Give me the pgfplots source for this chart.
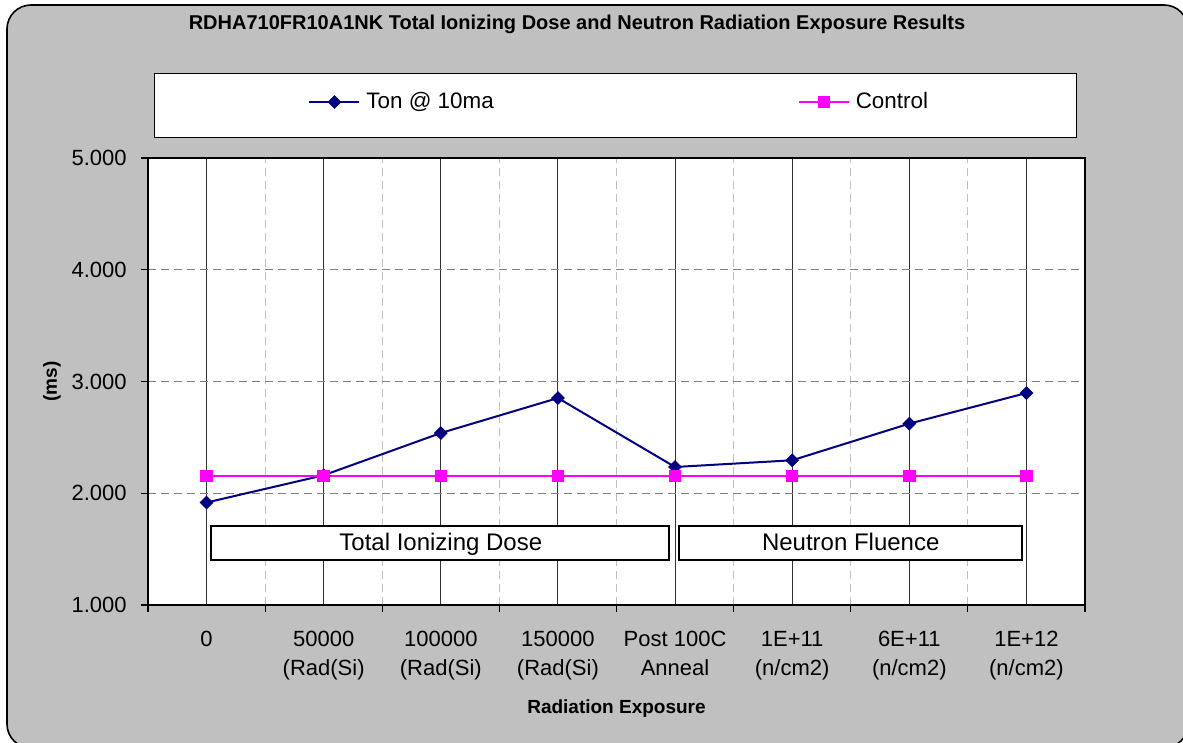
\documentclass[border=0pt]{standalone}
\usepackage{fontspec}
\setmainfont{Liberation Sans}
\usepackage{pgfplots}
\pgfplotsset{compat=1.18}
\definecolor{bggray}{RGB}{192,192,192}
\definecolor{tonblue}{RGB}{0,0,128}
\definecolor{ctrlmag}{RGB}{255,0,255}
\begin{document}
\begin{tikzpicture}
\useasboundingbox (0,0) rectangle (591.5pt,-371.5pt);
\clip (0,0) rectangle (591.5pt,-371.5pt);
\fill[white] (0,0) rectangle (591.5pt,-371.5pt);
\draw[fill=bggray, line width=0.8pt, rounded corners=12pt] (3.5pt,-2.5pt) rectangle (594pt,-374pt);
\node[font=\fontsize{10}{12}\selectfont\bfseries] at (288.5pt,-12.3pt) {RDHA710FR10A1NK Total Ionizing Dose and Neutron Radiation Exposure Results};
\draw[fill=white, line width=0.5pt] (77.35pt,-37pt) rectangle (538.3pt,-69pt);
\begin{axis}[
  at={(74pt,-302.5pt)}, anchor=south west,
  scale only axis, width=468.5pt, height=223.5pt,
  xmin=-0.5, xmax=7.5, ymin=1, ymax=5,
  axis background/.style={fill=white},
  axis line style={black, line width=1pt},
  xtick pos=bottom, ytick pos=left,
  xtick={0,1,2,3,4,5,6,7},
  xticklabels={0,{50000\\(Rad(Si)},{100000\\(Rad(Si)},{150000\\(Rad(Si)},{Post 100C\\Anneal},{1E+11\\(n/cm2)},{6E+11\\(n/cm2)},{1E+12\\(n/cm2)}},
  minor xtick={-0.5,0.5,1.5,2.5,3.5,4.5,5.5,6.5,7.5},
  ytick={1,2,3,4,5},
  yticklabels={1.000,2.000,3.000,4.000,5.000},
  tick align=outside,
  major tick length=3.5pt, minor tick length=3.5pt,
  major x tick style={draw=none},
  minor x tick style={black, line width=0.6pt},
  ytick style={black, line width=0.6pt},
  xmajorgrids, xminorgrids, ymajorgrids,
  major x grid style={black!80, line width=0.5pt, solid},
  minor x grid style={black!25, line width=0.5pt, dash pattern=on 4pt off 2.5pt},
  major y grid style={black!50, line width=0.5pt, dash pattern=on 4pt off 2.5pt},
  tick label style={font=\fontsize{11}{14.5}\selectfont},
  xticklabel style={align=center, anchor=north, inner sep=0pt, yshift=-9.5pt},
  yticklabel style={anchor=east, inner sep=0pt, xshift=-7pt},
  xlabel={Radiation Exposure}, ylabel={(ms)},
  label style={font=\fontsize{9.5}{11}\selectfont\bfseries},
  xlabel style={at={(axis description cs:0.5,-0.232)}, anchor=center},
  ylabel style={at={(axis description cs:-0.1025,0.5)}, anchor=center},
  legend columns=2,
  legend style={at={(0.1708,1.1253)}, anchor=west, draw=none, fill=none, inner sep=0pt,
    font=\fontsize{11.2}{13}\selectfont, nodes={inner sep=0pt},
    /tikz/every odd column/.append style={column sep=3pt},
    /tikz/every even column/.append style={column sep=152pt}},
  legend image code/.code={\draw[mark repeat=2, mark phase=2] plot coordinates {(0pt,0pt)(12.5pt,0pt)(25pt,0pt)};},
]
\addplot[tonblue, line width=1pt, mark=square*, mark size=1.95pt, mark options={rotate=45, fill=tonblue, draw=tonblue, solid}]
  coordinates {(0,1.917)(1,2.161)(2,2.539)(3,2.852)(4,2.235)(5,2.295)(6,2.623)(7,2.897)};
\addlegendentry{Ton @ 10ma}
\addplot[ctrlmag, line width=1pt, mark=square*, mark size=2.6pt, mark options={fill=ctrlmag, draw=ctrlmag, solid}]
  coordinates {(0,2.152)(1,2.152)(2,2.152)(3,2.152)(4,2.152)(5,2.152)(6,2.152)(7,2.152)};
\addlegendentry{Control}
\draw[fill=white, line width=1pt] (axis cs:0.034,1.403) rectangle (axis cs:3.945,1.710);
\node[font=\fontsize{12}{14}\selectfont, anchor=base, inner sep=0pt] at (axis cs:2,1.492) {Total Ionizing Dose};
\draw[fill=white, line width=1pt] (axis cs:4.03,1.403) rectangle (axis cs:6.966,1.710);
\node[font=\fontsize{12}{14}\selectfont, anchor=base, inner sep=0pt] at (axis cs:5.5,1.492) {Neutron Fluence};
\end{axis}
\end{tikzpicture}
\end{document}
